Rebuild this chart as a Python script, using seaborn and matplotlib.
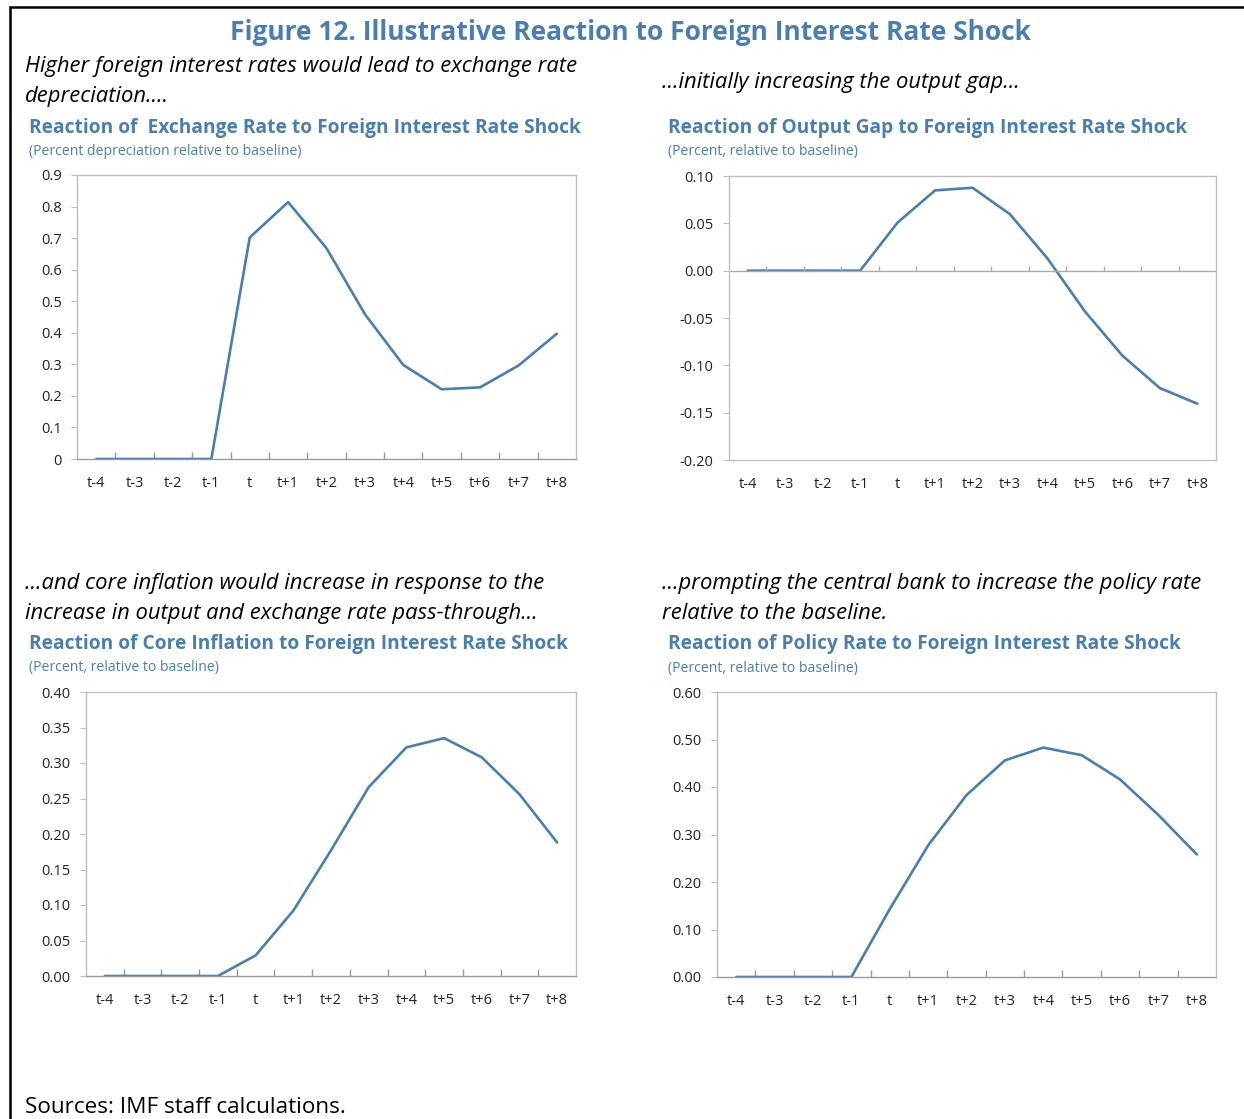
import matplotlib
matplotlib.use("Agg")
import matplotlib.pyplot as plt
import seaborn as sns
import numpy as np
import pandas as pd

# periods on the x axis
periods = ["t-4", "t-3", "t-2", "t-1", "t", "t+1", "t+2", "t+3", "t+4", "t+5", "t+6", "t+7", "t+8"]

# responses
exchange_rate = [0, 0, 0, 0, 0.702, 0.814, 0.668, 0.459, 0.298, 0.221, 0.227, 0.296, 0.397]
output_gap = [0, 0, 0, 0, 0.0508, 0.0848, 0.0876, 0.0596, 0.013, -0.043, -0.0897, -0.124, -0.1405]
core_inflation = [0, 0, 0, 0, 0.029, 0.092, 0.177, 0.266, 0.322, 0.335, 0.308, 0.256, 0.188]
policy_rate = [0, 0, 0, 0, 0.143, 0.277, 0.383, 0.456, 0.483, 0.467, 0.416, 0.341, 0.258]

sns.set_style("white")
plt.rcParams['font.family'] = ['Open Sans', 'DejaVu Sans']

W, H = 1244, 1119
BLUE = "#4A7EB1"
LINE = "#4A7EAF"

fig = plt.figure(figsize=(W / 100, H / 100), dpi=100)


def px(x, y):
    # text centres sit a little high with va=center, nudge down
    return x / W, 1 - (y + 1.5) / H


def make_axes(l, t, r, b):
    return fig.add_axes([l / W, 1 - b / H, (r - l) / W, (b - t) / H])


def two_dec(v):
    return f"{abs(v):.2f}" if abs(v) < 1e-9 else f"{v:.2f}"


def panel(ax, values, ylim, yticks, fmt, zero_mid=False):
    df = pd.DataFrame({"x": np.arange(len(periods)), "y": values})
    sns.lineplot(data=df, x="x", y="y", ax=ax, color=LINE, linewidth=1.9)
    ax.set_xlim(-0.5, len(periods) - 0.5)
    ax.set_ylim(*ylim)
    ax.set_yticks(yticks)
    ax.set_yticklabels([fmt(v) for v in yticks])
    ax.set_xticks(np.arange(len(periods)))
    ax.set_xticklabels(periods)
    ax.set_xlabel("")
    ax.set_ylabel("")
    for s in ax.spines.values():
        s.set_color("#BFBFBF")
        s.set_linewidth(1)
    ax.tick_params(axis="x", length=0, pad=12, labelsize=10.5, colors="#222222")
    ax.tick_params(axis="y", length=4, width=0.8, color="#BFBFBF", pad=7,
                   labelsize=10.5, labelcolor="#222222", left=True)
    bounds = np.arange(0.5, len(periods) - 1, 1.0)
    if zero_mid:
        ax.axhline(0, color="#AAAAAA", linewidth=1)
        h = (ylim[1] - ylim[0]) * 0.018
        ax.vlines(bounds, 0, h, color="#AAAAAA", linewidth=1)
    else:
        ax.spines["bottom"].set_color("#9A9A9A")
        ax.set_xticks(bounds, minor=True)
        ax.tick_params(axis="x", which="minor", direction="in", length=5,
                       color="#9A9A9A", width=1, bottom=True)


ax1 = make_axes(77, 175, 576, 459)
panel(ax1, exchange_rate, (0, 0.9), np.round(np.arange(0, 0.91, 0.1), 1),
      lambda v: "0" if v == 0 else f"{v:.1f}")

ax2 = make_axes(729, 176, 1216, 460)
panel(ax2, output_gap, (-0.2, 0.1), np.round(np.arange(-0.2, 0.101, 0.05), 2),
      two_dec, zero_mid=True)

ax3 = make_axes(86, 692, 576, 976)
panel(ax3, core_inflation, (0, 0.4), np.round(np.arange(0, 0.401, 0.05), 2), two_dec)

ax4 = make_axes(717, 692, 1216, 977)
panel(ax4, policy_rate, (0, 0.6), np.round(np.arange(0, 0.601, 0.1), 2), two_dec)

# headline
fig.text(*px(631, 31), "Figure 12. Illustrative Reaction to Foreign Interest Rate Shock",
         ha="center", va="center", fontsize=19, fontweight="bold", color=BLUE)

# italic leads
lead_kw = dict(ha="left", va="center", fontsize=15.8, style="italic", color="black")
fig.text(*px(25, 65), "Higher foreign interest rates would lead to exchange rate", **lead_kw)
fig.text(*px(25, 95), "depreciation....", **lead_kw)
fig.text(*px(662, 81), "...initially increasing the output gap...", **lead_kw)
fig.text(*px(25, 582), "...and core inflation would increase in response to the", **lead_kw)
fig.text(*px(25, 612), "increase in output and exchange rate pass-through...", **lead_kw)
fig.text(*px(662, 582), "...prompting the central bank to increase the policy rate", **lead_kw)
fig.text(*px(662, 612), "relative to the baseline.", **lead_kw)

# panel titles
t_kw = dict(ha="left", va="center", fontsize=13.8, fontweight="bold", color=BLUE)
s_kw = dict(ha="left", va="center", fontsize=10.1, color=BLUE)
fig.text(*px(29, 126), "Reaction of  Exchange Rate to Foreign Interest Rate Shock", **t_kw)
fig.text(*px(29, 150), "(Percent depreciation relative to baseline)", **s_kw)
fig.text(*px(668, 126), "Reaction of Output Gap to Foreign Interest Rate Shock", **t_kw)
fig.text(*px(668, 150), "(Percent, relative to baseline)", **s_kw)
fig.text(*px(29, 643), "Reaction of Core Inflation to Foreign Interest Rate Shock", **t_kw)
fig.text(*px(29, 666), "(Percent, relative to baseline)", **s_kw)
fig.text(*px(668, 643), "Reaction of Policy Rate to Foreign Interest Rate Shock", **t_kw)
fig.text(*px(668, 667), "(Percent, relative to baseline)", **s_kw)

fig.text(*px(25, 1106), "Sources: IMF staff calculations.", ha="left", va="center",
         fontsize=16.2, color="black")

# frame on the top and left edge
fig.add_artist(plt.Line2D([10 / W, 1], [1 - 7 / H, 1 - 7 / H], color="black", linewidth=1.8,
                          transform=fig.transFigure))
fig.add_artist(plt.Line2D([10 / W, 10 / W], [1 - 7 / H, 0], color="black", linewidth=1.8,
                          transform=fig.transFigure))

fig.savefig("out.png", dpi=100, facecolor="white")
